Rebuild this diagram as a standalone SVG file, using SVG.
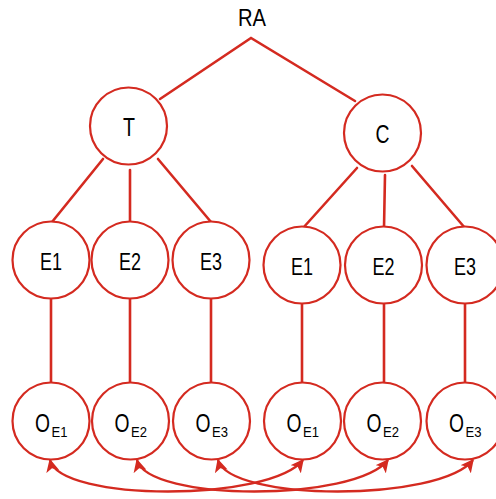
<svg xmlns="http://www.w3.org/2000/svg" width="496" height="499" viewBox="0 0 496 499">
<defs>
<style>
.n{fill:#fff;stroke:#d42a20;stroke-width:2.2}
.c{fill:none;stroke:#d42a20;stroke-width:2.6;stroke-linecap:round}
.a{fill:none;stroke:#d42a20;stroke-width:2.4}
.t{font-family:"Liberation Sans",Arial,sans-serif;font-size:24px;fill:#000;text-anchor:middle}
.o{font-family:"Liberation Sans",Arial,sans-serif;font-size:25px;fill:#000;text-anchor:middle}
.s{font-family:"Liberation Sans",Arial,sans-serif;font-size:15px;fill:#000;text-anchor:start}
</style>
<marker id="ah" viewBox="0 0 10 10" refX="9" refY="5" markerWidth="5.5" markerHeight="5.5" orient="auto-start-reverse" markerUnits="strokeWidth">
<path d="M0,0 L10,5 L0,10 L2.5,5 Z" fill="#d42a20"/>
</marker>
</defs>
<rect width="496" height="499" fill="#fff"/>
<g id="connectors">
<polyline class="c" points="160,99 251,38 355,101"/>
<line class="c" x1="103" y1="159" x2="52" y2="222"/>
<line class="c" x1="130" y1="170" x2="130" y2="222"/>
<line class="c" x1="158" y1="159" x2="211" y2="222"/>
<line class="c" x1="357" y1="168" x2="303" y2="228"/>
<line class="c" x1="385" y1="175" x2="384" y2="228"/>
<line class="c" x1="412" y1="166" x2="465" y2="228"/>
<line class="c" x1="51" y1="299" x2="51" y2="383"/>
<line class="c" x1="130" y1="299" x2="130" y2="383"/>
<line class="c" x1="211" y1="299" x2="211" y2="383"/>
<line class="c" x1="302" y1="304" x2="302" y2="383"/>
<line class="c" x1="384" y1="304" x2="384" y2="383"/>
<line class="c" x1="465" y1="304" x2="465" y2="383"/>
<path class="a" d="M50,460 C60,502 270,502 303,460" marker-start="url(#ah)" marker-end="url(#ah)"/>
<path class="a" d="M137,460 C148,502 355,502 388,460" marker-start="url(#ah)" marker-end="url(#ah)"/>
<path class="a" d="M218,460 C230,502 440,502 473,460" marker-start="url(#ah)" marker-end="url(#ah)"/>
</g>
<g id="RA"><text class="t" x="252" y="26" font-size="22" textLength="28" lengthAdjust="spacingAndGlyphs">RA</text></g>
<g id="T"><circle class="n" cx="128.5" cy="126" r="38.5"/><text class="o" x="129" y="136" textLength="12" lengthAdjust="spacingAndGlyphs">T</text></g>
<g id="C"><circle class="n" cx="382.5" cy="133" r="38.5"/><text class="o" x="382.5" y="143" textLength="14" lengthAdjust="spacingAndGlyphs">C</text></g>
<g id="E1L"><circle class="n" cx="51" cy="260" r="38.5"/><text class="t" x="51" y="270" textLength="22" lengthAdjust="spacingAndGlyphs">E1</text></g>
<g id="E2L"><circle class="n" cx="130" cy="260" r="38.5"/><text class="t" x="130" y="270" textLength="22" lengthAdjust="spacingAndGlyphs">E2</text></g>
<g id="E3L"><circle class="n" cx="211" cy="260" r="38.5"/><text class="t" x="211" y="270" textLength="22" lengthAdjust="spacingAndGlyphs">E3</text></g>
<g id="E1R"><circle class="n" cx="302" cy="265" r="38.5"/><text class="t" x="302" y="275" textLength="22" lengthAdjust="spacingAndGlyphs">E1</text></g>
<g id="E2R"><circle class="n" cx="383.5" cy="265" r="38.5"/><text class="t" x="383.5" y="275" textLength="22" lengthAdjust="spacingAndGlyphs">E2</text></g>
<g id="E3R"><circle class="n" cx="465" cy="265" r="38.5"/><text class="t" x="465" y="275" textLength="22" lengthAdjust="spacingAndGlyphs">E3</text></g>
<g id="OE1L"><circle class="n" cx="51" cy="421" r="38.5"/><text class="o" x="42.5" y="432" textLength="15" lengthAdjust="spacingAndGlyphs">O</text><text class="s" x="51.5" y="437" textLength="16" lengthAdjust="spacingAndGlyphs">E1</text></g>
<g id="OE2L"><circle class="n" cx="130.5" cy="421" r="38.5"/><text class="o" x="122" y="432" textLength="15" lengthAdjust="spacingAndGlyphs">O</text><text class="s" x="131" y="437" textLength="16" lengthAdjust="spacingAndGlyphs">E2</text></g>
<g id="OE3L"><circle class="n" cx="211.5" cy="421" r="38.5"/><text class="o" x="203" y="432" textLength="15" lengthAdjust="spacingAndGlyphs">O</text><text class="s" x="212" y="437" textLength="16" lengthAdjust="spacingAndGlyphs">E3</text></g>
<g id="OE1R"><circle class="n" cx="302.5" cy="421" r="38.5"/><text class="o" x="294" y="432" textLength="15" lengthAdjust="spacingAndGlyphs">O</text><text class="s" x="303" y="437" textLength="16" lengthAdjust="spacingAndGlyphs">E1</text></g>
<g id="OE2R"><circle class="n" cx="382.5" cy="421" r="38.5"/><text class="o" x="374" y="432" textLength="15" lengthAdjust="spacingAndGlyphs">O</text><text class="s" x="383" y="437" textLength="16" lengthAdjust="spacingAndGlyphs">E2</text></g>
<g id="OE3R"><circle class="n" cx="465" cy="421" r="38.5"/><text class="o" x="456.5" y="432" textLength="15" lengthAdjust="spacingAndGlyphs">O</text><text class="s" x="465.5" y="437" textLength="16" lengthAdjust="spacingAndGlyphs">E3</text></g>
</svg>
